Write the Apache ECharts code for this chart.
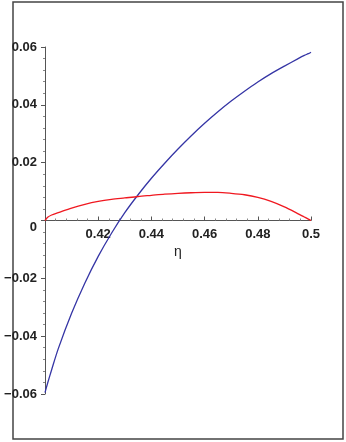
<!DOCTYPE html>
<html>
<head>
<meta charset="utf-8">
<script src="https://cdn.jsdelivr.net/npm/echarts@6/dist/echarts.min.js"></script>
<style>
html, body { margin: 0; padding: 0; background: #fff; }
#main { width: 346px; height: 442px; }
</style>
</head>
<body>
<div id="main"></div>
<script>
var eta = [0.400, 0.401, 0.4025, 0.405, 0.410, 0.415, 0.420, 0.425, 0.430, 0.435, 0.440,
	0.445, 0.450, 0.455, 0.460, 0.465, 0.470, 0.475, 0.480, 0.485, 0.490, 0.495, 0.4975, 0.499, 0.500];
var blueValues = [-0.0595, -0.0562, -0.0516, -0.0443, -0.0321, -0.0216, -0.0124, -0.0044, 0.0027, 0.0089, 0.0146,
	0.0198, 0.0247, 0.0293, 0.0336, 0.0376, 0.0413, 0.0447, 0.0479, 0.0508, 0.0534, 0.0559, 0.0571, 0.0577, 0.0582];
var redValues = [0, 0.0011, 0.0019, 0.0027, 0.0043, 0.0056, 0.0066, 0.0073, 0.0078, 0.0083, 0.0087,
	0.0091, 0.0094, 0.0096, 0.0097, 0.0097, 0.0094, 0.0089, 0.0080, 0.0066, 0.0047, 0.0024, 0.0012, 0.0005, 0];
var xTicks = [0.42, 0.44, 0.46, 0.48, 0.5];
var yTicks = [-0.06, -0.04, -0.02, 0, 0.02, 0.04, 0.06];

function pairs(xs, ys) {
	return xs.map(function (x, i) { return [x, ys[i]]; });
}

var chart = echarts.init(document.getElementById('main'));
var axisColor = '#555';
var textColor = '#222';
var gridTop = 47, gridBottom = 48;
// the x axis sits on y = 0, halfway down the plot
var zeroOffset = -(442 - gridTop - gridBottom) / 2;

var option = {
	animation: false,
	grid: {
		left: 45,
		right: 35,
		top: gridTop,
		bottom: gridBottom
	},
	graphic: [{
		type: 'rect',
		shape: { x: 13, y: 2, width: 330, height: 437 },
		style: { fill: 'none', stroke: '#444', lineWidth: 1.5 },
		z: 0
	}],
	xAxis: {
		type: 'value',
		min: 0.4,
		max: 0.5,
		interval: 0.02,
		offset: zeroOffset,
		name: 'η',
		nameLocation: 'middle',
		nameGap: 20,
		nameTextStyle: { fontFamily: 'Liberation Sans', fontSize: 14, color: textColor },
		axisLine: { onZero: false, lineStyle: { color: axisColor, width: 1 } },
		axisTick: { inside: true, length: 4, lineStyle: { color: axisColor } },
		minorTick: { show: true, splitNumber: 5, length: 2, lineStyle: { color: '#888' } },
		splitLine: { show: false },
		axisLabel: {
			showMinLabel: false,
			margin: 7,
			fontFamily: 'Liberation Sans',
			fontWeight: 'bold',
			fontSize: 13,
			color: textColor,
			formatter: function (v) {
				var hit = xTicks.filter(function (t) { return Math.abs(t - v) < 1e-9; });
				return hit.length ? String(hit[0]) : '';
			}
		}
	},
	yAxis: {
		type: 'value',
		min: -0.06,
		max: 0.06,
		interval: 0.02,
		axisLine: { onZero: false, lineStyle: { color: axisColor, width: 1 } },
		axisTick: { length: 4, lineStyle: { color: axisColor } },
		minorTick: { show: true, splitNumber: 5, length: 2, lineStyle: { color: '#888' } },
		splitLine: { show: false },
		axisLabel: {
			margin: 8,
			fontFamily: 'Liberation Sans',
			fontWeight: 'bold',
			fontSize: 13,
			color: textColor,
			formatter: function (v) {
				var hit = yTicks.filter(function (t) { return Math.abs(t - v) < 1e-9; });
				if (!hit.length) return '';
				var t = hit[0];
				if (t === 0) return '{z|0}';
				return (t < 0 ? '\u2212' : '') + Math.abs(t).toFixed(2);
			},
			rich: {
				z: { fontFamily: 'Liberation Sans', fontWeight: 'bold', fontSize: 13, color: textColor, padding: [14, 0, 0, 0] }
			}
		}
	},
	series: [{
		name: 'blue',
		type: 'line',
		smooth: 0.3,
		showSymbol: false,
		data: pairs(eta, blueValues),
		lineStyle: { color: '#3535a5', width: 1.3 },
		z: 3
	}, {
		name: 'red',
		type: 'line',
		smooth: 0.3,
		showSymbol: false,
		data: pairs(eta, redValues),
		lineStyle: { color: '#f01820', width: 1.3 },
		z: 4
	}]
};
chart.setOption(option);
</script>
</body>
</html>
